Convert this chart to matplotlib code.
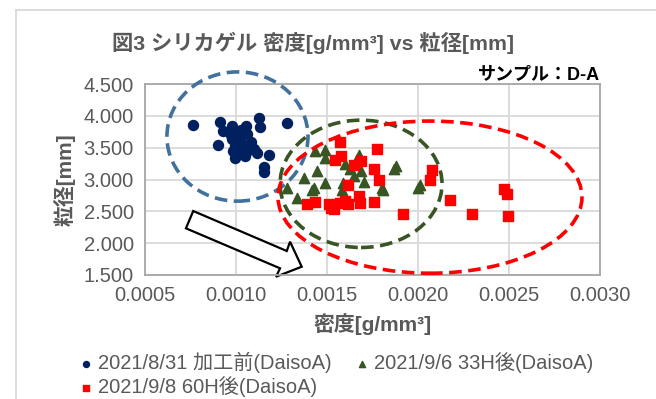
import numpy as np
import matplotlib
matplotlib.use('Agg')
from matplotlib import pyplot as plt
from matplotlib.patches import Ellipse, Polygon
from matplotlib.lines import Line2D

plt.rcParams['font.family'] = ['Liberation Sans', 'Noto Sans CJK JP', 'DejaVu Sans']

# data: density [g/mm3] vs diameter [mm]
blue_x = [0.000765, 0.000912, 0.00093, 0.00098, 0.001055, 0.001126, 0.001132, 0.00128,
          0.001013, 0.00106, 0.000976, 0.00102, 0.00108, 0.000903, 0.000995, 0.00104,
          0.000985, 0.00106, 0.001117, 0.00118, 0.000995, 0.00105, 0.001154, 0.001155,
          0.00100, 0.00103, 0.00110, 0.00097, 0.00101]
blue_y = [3.858, 3.896, 3.76, 3.84, 3.84, 3.96, 3.83, 3.885,
          3.74, 3.71, 3.63, 3.61, 3.59, 3.54, 3.53, 3.50,
          3.45, 3.45, 3.41, 3.385, 3.33, 3.37, 3.19, 3.12,
          3.68, 3.78, 3.48, 3.70, 3.42]

green_x = [0.001436, 0.001487, 0.00149, 0.001678, 0.001667, 0.001627, 0.001685, 0.001445,
           0.001372, 0.00149, 0.001427, 0.00142, 0.001282, 0.001336, 0.00158, 0.00159,
           0.001705, 0.0018, 0.00181, 0.00188, 0.001867, 0.002009, 0.0020, 0.00165, 0.00160]
green_y = [3.45, 3.47, 3.33, 3.39, 3.32, 3.17, 3.13, 3.13,
           3.03, 2.95, 2.87, 2.84, 2.87, 2.71, 2.84, 2.95,
           2.96, 2.87, 2.84, 3.21, 3.16, 2.92, 2.87, 3.05, 3.25]

red_x = [0.001573, 0.001578, 0.001542, 0.001685, 0.001649, 0.001773, 0.001758, 0.001785,
         0.002076, 0.002067, 0.001618, 0.001391, 0.001436, 0.001509, 0.001536, 0.001573,
         0.001618, 0.001678, 0.001682, 0.001758, 0.001918, 0.002176, 0.002295, 0.002475,
         0.00249, 0.002495, 0.00152, 0.00160]
red_y = [3.59, 3.37, 3.30, 3.29, 3.22, 3.48, 3.16, 2.99,
         3.15, 3.0, 2.92, 2.62, 2.64, 2.61, 2.54, 2.63,
         2.61, 2.74, 2.63, 2.64, 2.46, 2.68, 2.46, 2.85,
         2.78, 2.43, 2.56, 2.66]

labels = ['2021/8/31 加工前(DaisoA)', '2021/9/6 33H後(DaisoA)', '2021/9/8 60H後(DaisoA)']
xticks = [0.0005, 0.0010, 0.0015, 0.0020, 0.0025, 0.0030]
yticks = [1.5, 2.0, 2.5, 3.0, 3.5, 4.0, 4.5]

# annotation shapes (center x, center y, width, height) in data units
circle_blue = (0.001008, 3.675, 0.000775, 2.03)
circle_green = (0.001687, 2.932, 0.00089, 2.0)
circle_red = (0.002066, 2.723, 0.00167, 2.39)
arrow_pts = [(0.000765, 2.505), (0.001279, 1.877), (0.001297, 2.023), (0.001361, 1.630),
             (0.00122, 1.473), (0.001242, 1.605), (0.000725, 2.233)]

grey = '#595959'

fig = plt.figure(figsize=(6.56, 3.99), dpi=100)
ax = fig.add_axes([145/656, 1-275/399, 455/656, 191/399])

ax.scatter(blue_x, blue_y, s=52, marker='o', color='#002060', zorder=3, label=labels[0])
ax.scatter(green_x, green_y, s=55, marker='^', color='#375623', zorder=3, label=labels[1])
ax.scatter(red_x, red_y, s=52, marker='s', color='#ff0000', zorder=3, label=labels[2])

for (cx, cy, w, h), col in [(circle_blue, '#41719c'), (circle_green, '#375623'), (circle_red, '#ff0000')]:
    ax.add_patch(Ellipse((cx, cy), w, h, fill=False, edgecolor=col, lw=2.6,
                         linestyle=(0, (3.5, 1.8)), zorder=4, clip_on=False))

ax.add_patch(Polygon(arrow_pts, closed=True, facecolor='white', edgecolor='black',
                     lw=1.6, zorder=2, clip_on=False))

ax.set_xlim(0.0005, 0.0030)
ax.set_ylim(1.5, 4.5)
ax.set_xticks(xticks)
ax.set_yticks(yticks)
ax.set_xticklabels([f'{v:.4f}' for v in xticks])
ax.set_yticklabels([f'{v:.3f}' for v in yticks])
ax.tick_params(length=0, labelsize=14.5, labelcolor=grey, pad=8)
ax.grid(True, color='#d9d9d9', lw=1.3)
ax.set_axisbelow(True)
for sp in ax.spines.values():
    sp.set_color('#a6a6a6')
    sp.set_linewidth(1.3)

ax.set_xlabel('密度[g/mm³]', fontsize=15, fontweight='bold', color=grey, labelpad=6)
ax.set_ylabel('粒径[mm]', fontsize=15, fontweight='bold', color=grey, labelpad=6)

fig.text(313/656, 1-43/399, '図3 シリカゲル 密度[g/mm³] vs 粒径[mm]', ha='center', va='center',
         fontsize=15.3, fontweight='bold', color=grey)
fig.text(600/656, 1-75/399, 'サンプル：D-A', ha='right', va='center',
         fontsize=13, fontweight='bold', color='black')

# chart area border
fig.add_artist(Line2D([16/656, 16/656], [0, 1-10/399], color='#d9d9d9', lw=1.3))
fig.add_artist(Line2D([16/656, 1], [1-10/399, 1-10/399], color='#d9d9d9', lw=1.3))

h, l = ax.get_legend_handles_labels()
fig.legend([h[0], h[2], h[1]], [l[0], l[2], l[1]], ncol=2, loc='upper left',
           bbox_to_anchor=(70/656, 1-342/399), frameon=False, fontsize=14.5,
           labelcolor=grey, handlelength=0.6, handletextpad=0.3, columnspacing=1.2,
           labelspacing=0.15, borderpad=0, markerscale=0.6)

fig.savefig('out.png', dpi=100)
